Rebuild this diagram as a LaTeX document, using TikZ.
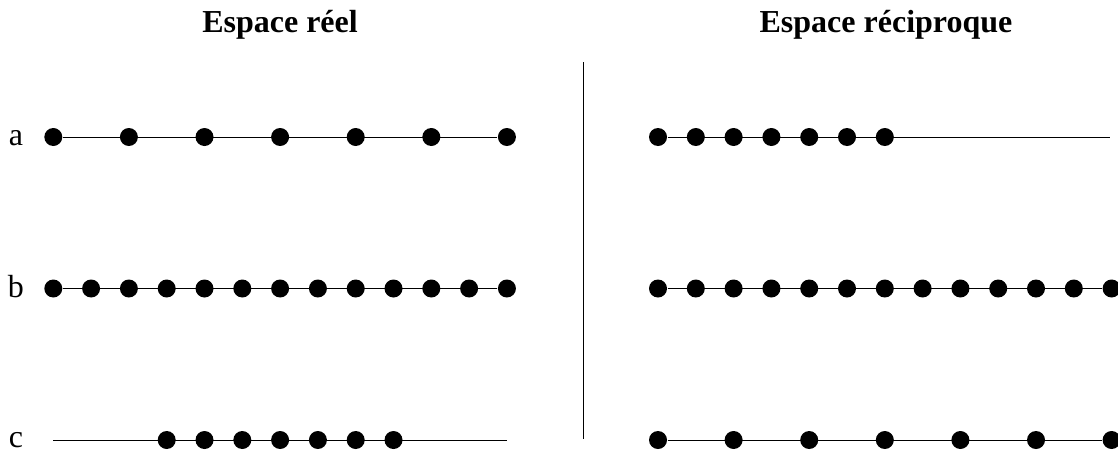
\documentclass[tikz,border=0pt]{standalone}
\usepackage{fontspec}
\setmainfont{Liberation Serif}
\usetikzlibrary{positioning}

\begin{document}
\begin{tikzpicture}[x=1pt,y=-1pt,line width=1pt,
  every node/.append style={font=\fontsize{32}{38}\selectfont},
  atom/.style={circle,fill=black,inner sep=0pt,minimum size=18pt},
  titre/.style={font=\fontsize{32}{38}\selectfont\bfseries,anchor=base},
  lbl/.style={anchor=base,inner sep=0pt}]
\useasboundingbox (0,0) rectangle (1118,453);
% titres
\node[titre] (treel) at (280,32) {Espace réel};
\node[titre] (trecip) at (886,32) {Espace réciproque};
% separation
\coordinate (sep1) at (583,62);
\coordinate (sep2) at (583,439);
\draw (sep1) -- (sep2);
% espace reel
\node[lbl] (la) at (16,145) {a};
\node[lbl] (lb) at (16,297) {b};
\node[lbl] (lc) at (16,447) {c};
\foreach \i in {0,...,6}
  \node[atom] (ra\i) at (53.3+75.6*\i,137) {};
\foreach \i in {0,...,12}
  \node[atom] (rb\i) at (53.3+37.8*\i,288.5) {};
\foreach \i in {0,...,6}
  \node[atom] (rc\i) at (166.7+37.8*\i,440) {};
\coordinate (rcl) at (53,440);
\coordinate (rcr) at (507,440);
\draw (ra0) -- (ra6);
\draw (rb0) -- (rb12);
\draw (rcl) -- (rcr);
% espace reciproque
\foreach \i in {0,...,6}
  \node[atom] (ka\i) at (658+37.8*\i,137) {};
\foreach \i in {0,...,12}
  \node[atom] (kb\i) at (658+37.8*\i,288.5) {};
\foreach \i in {0,...,6}
  \node[atom] (kc\i) at (658+75.6*\i,440) {};
\coordinate (kar) at (1110,137);
\draw (ka0) -- (kar);
\draw (kb0) -- (kb12);
\draw (kc0) -- (kc6);
\end{tikzpicture}
\end{document}
